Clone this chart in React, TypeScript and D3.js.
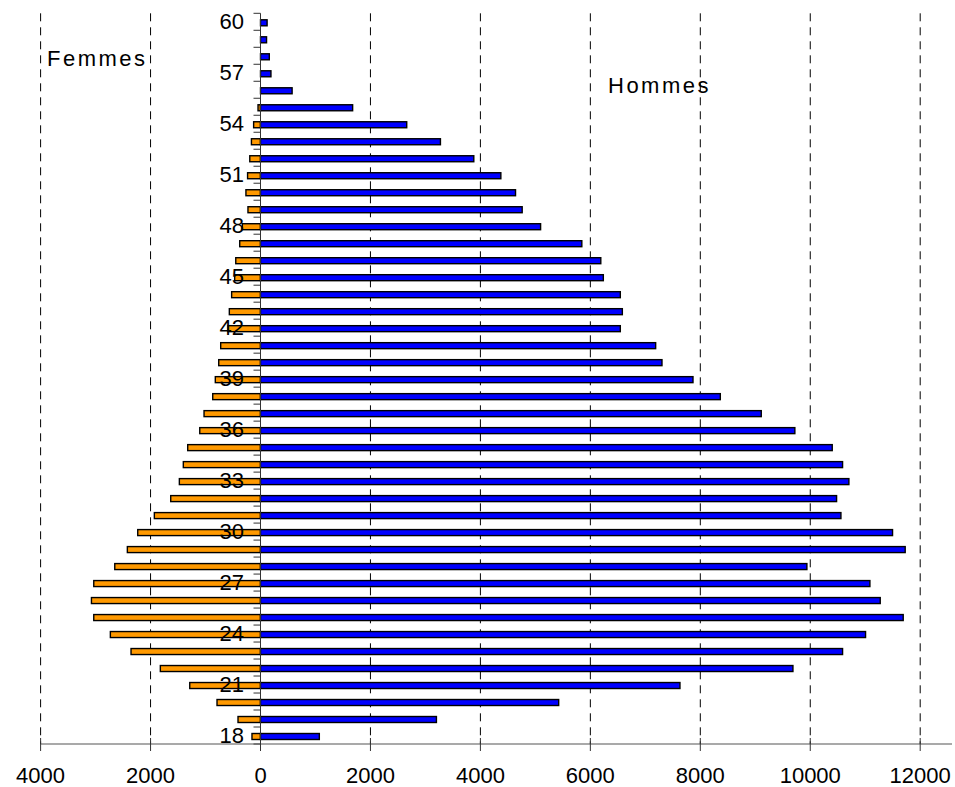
import React from "react"
import * as d3 from "d3"

// ages, top to bottom
const ages = [
  60, 59, 58, 57, 56, 55, 54, 53, 52, 51, 50, 49, 48, 47, 46, 45, 44, 43, 42, 41, 40, 39,
  38, 37, 36, 35, 34, 33, 32, 31, 30, 29, 28, 27, 26, 25, 24, 23, 22, 21, 20, 19, 18,
]

const hommes = [
  120, 110, 160, 190, 575, 1676, 2660, 3273, 3880, 4372, 4639, 4760, 5095, 5845, 6190, 6236,
  6545, 6582, 6545, 7188, 7303, 7867, 8364, 9109, 9720, 10400, 10588, 10703, 10479, 10558,
  11497, 11727, 9939, 11085, 11273, 11691, 11006, 10588, 9685, 7630, 5424, 3200, 1070,
]

const femmes = [
  0, 0, 0, 0, 0, 45, 125, 165, 195, 235, 265, 228, 330, 378, 450, 470, 525, 567, 590, 724,
  760, 822, 869, 1027, 1105, 1324, 1404, 1476, 1633, 1931, 2233, 2422, 2651, 3033, 3075,
  3033, 2731, 2355, 1822, 1287, 791, 409, 155,
]

const xTicks = [-4000, -2000, 0, 2000, 4000, 6000, 8000, 10000, 12000]
const ageLabels = [60, 57, 54, 51, 48, 45, 42, 39, 36, 33, 30, 27, 24, 21, 18]

const W = 955
const H = 787
const FONT = "'Liberation Sans', Arial, sans-serif"

export default function App() {
  const top = 13.3
  const bottom = 744
  const axisEnd = 952

  const x = d3.scaleLinear().domain([-4000, 12000]).range([40.6, 920.2])
  const y = d3.scaleBand<number>().domain(ages).range([top, bottom])
  const bw = y.bandwidth()
  const barH = 6
  const x0 = x(0)

  const barY = (age: number) => (y(age) ?? 0) + bw / 2 + 1 - barH / 2

  return (
    <svg
      width={W}
      height={H}
      style={{ position: "absolute", left: 0, top: 0, display: "block", background: "#fff" }}
      fontFamily={FONT}
    >
      {/* gridlines */}
      {xTicks
        .filter((t) => t !== 0)
        .map((t) => (
          <line
            key={"g" + t}
            x1={x(t)}
            x2={x(t)}
            y1={top}
            y2={bottom}
            stroke="#000"
            strokeWidth={1}
            strokeDasharray="8,6"
          />
        ))}

      {/* bars */}
      {ages.map((age, i) =>
        femmes[i] > 0 ? (
          <rect
            key={"f" + age}
            x={x(-femmes[i])}
            y={barY(age)}
            width={x0 - x(-femmes[i])}
            height={barH}
            fill="#FF9900"
            stroke="#000"
            strokeWidth={1.4}
          />
        ) : null
      )}
      {ages.map((age, i) => (
        <rect
          key={"h" + age}
          x={x0}
          y={barY(age)}
          width={x(hommes[i]) - x0}
          height={barH}
          fill="#0000FF"
          stroke="#000"
          strokeWidth={1.4}
        />
      ))}

      {/* category axis */}
      <line x1={x0} x2={x0} y1={top} y2={751} stroke="#333" strokeWidth={1} />
      {d3.range(ages.length + 1).map((i) => (
        <line
          key={"ct" + i}
          x1={x0 - 7}
          x2={x0}
          y1={top + i * bw}
          y2={top + i * bw}
          stroke="#333"
          strokeWidth={1}
        />
      ))}

      {/* value axis */}
      <line x1={x(-4000)} x2={axisEnd} y1={bottom} y2={bottom} stroke="#555" strokeWidth={1.2} />
      {xTicks.map((t) => (
        <line key={"xt" + t} x1={x(t)} x2={x(t)} y1={738} y2={751} stroke="#333" strokeWidth={1} />
      ))}
      {xTicks.map((t) => (
        <text key={"xl" + t} x={x(t)} y={783} textAnchor="middle" fontSize={22} fill="#000">
          {Math.abs(t)}
        </text>
      ))}

      {/* age labels */}
      {ageLabels.map((a) => (
        <text
          key={"al" + a}
          x={244}
          y={(y(a) ?? 0) + bw / 2 + 7.5}
          textAnchor="end"
          fontSize={22}
          fill="#000"
        >
          {a}
        </text>
      ))}

      <text x={47} y={66} fontSize={22} letterSpacing={2.5} fill="#000">
        Femmes
      </text>
      <text x={608} y={93} fontSize={22} letterSpacing={2.5} fill="#000">
        Hommes
      </text>
    </svg>
  )
}
